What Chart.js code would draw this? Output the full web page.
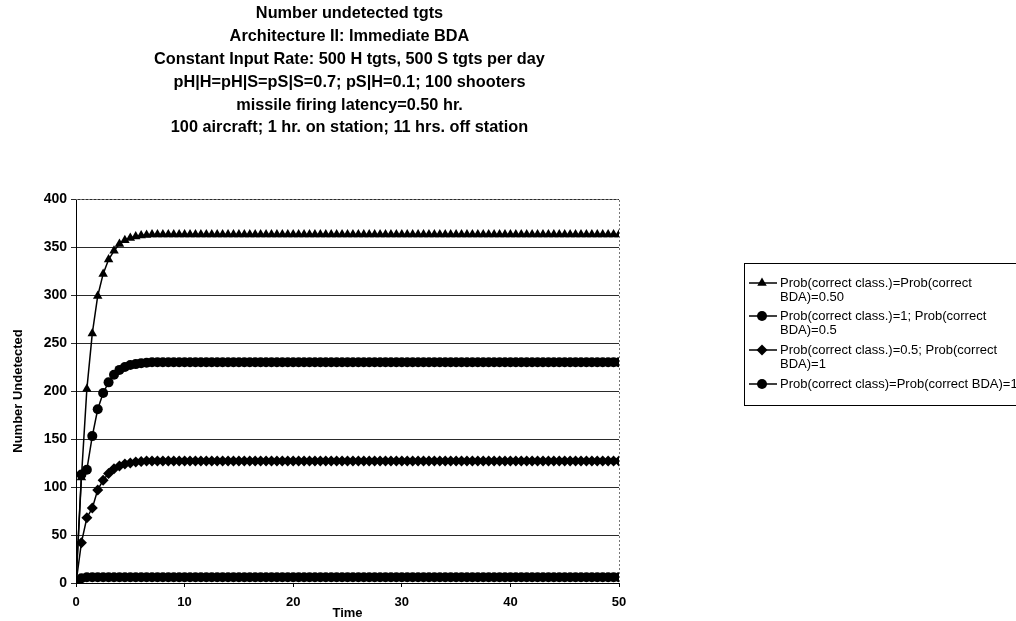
<!DOCTYPE html>
<html><head><meta charset="utf-8">
<script src="https://cdn.jsdelivr.net/npm/chart.js@4.4.1/dist/chart.umd.min.js"></script>
<style>html,body{margin:0;padding:0;background:#fff}canvas{display:block}</style>
</head><body>
<canvas id="c" width="1016" height="621"></canvas>
<script>
const titleLines = [
  "Number undetected tgts",
  "Architecture II: Immediate BDA",
  "Constant Input Rate: 500 H tgts, 500 S tgts per day",
  "pH|H=pH|S=pS|S=0.7; pS|H=0.1; 100 shooters",
  "missile firing latency=0.50 hr.",
  "100 aircraft; 1 hr. on station; 11 hrs. off station"
];
const xAxisTitle = "Time";
const yAxisTitle = "Number Undetected";
const seriesLabels = [
  ["Prob(correct class.)=Prob(correct", "BDA)=0.50"],
  ["Prob(correct class.)=1; Prob(correct", "BDA)=0.5"],
  ["Prob(correct class.)=0.5; Prob(correct", "BDA)=1"],
  ["Prob(correct class)=Prob(correct BDA)=1"]
];
const times = [
  0,0.5,1,1.5,2,2.5,3,3.5,4,4.5,5,5.5,6,6.5,7,7.5,8,8.5,9,9.5,
  10,10.5,11,11.5,12,12.5,13,13.5,14,14.5,15,15.5,16,16.5,17,17.5,18,18.5,19,19.5,
  20,20.5,21,21.5,22,22.5,23,23.5,24,24.5,25,25.5,26,26.5,27,27.5,28,28.5,29,29.5,
  30,30.5,31,31.5,32,32.5,33,33.5,34,34.5,35,35.5,36,36.5,37,37.5,38,38.5,39,39.5,
  40,40.5,41,41.5,42,42.5,43,43.5,44,44.5,45,45.5,46,46.5,47,47.5,48,48.5,49,49.5,50
];
const bothHalf = [
  0,110,202,260,299,322,337,346,353,357,359.5,361,362,362.5,363,363,363,363,363,363,
  363,363,363,363,363,363,363,363,363,363,363,363,363,363,363,363,363,363,363,363,
  363,363,363,363,363,363,363,363,363,363,363,363,363,363,363,363,363,363,363,363,
  363,363,363,363,363,363,363,363,363,363,363,363,363,363,363,363,363,363,363,363,
  363,363,363,363,363,363,363,363,363,363,363,363,363,363,363,363,363,363,363,363,363
];
const classOneBdaHalf = [
  0,113,118,153,181,198,209,217,222,225,227,228,229,229.5,230,230,230,230,230,230,
  230,230,230,230,230,230,230,230,230,230,230,230,230,230,230,230,230,230,230,230,
  230,230,230,230,230,230,230,230,230,230,230,230,230,230,230,230,230,230,230,230,
  230,230,230,230,230,230,230,230,230,230,230,230,230,230,230,230,230,230,230,230,
  230,230,230,230,230,230,230,230,230,230,230,230,230,230,230,230,230,230,230,230,230
];
const classHalfBdaOne = [
  0,42,68,78,97,107,114,119,122,124,125,126,126.5,127,127,127,127,127,127,127,
  127,127,127,127,127,127,127,127,127,127,127,127,127,127,127,127,127,127,127,127,
  127,127,127,127,127,127,127,127,127,127,127,127,127,127,127,127,127,127,127,127,
  127,127,127,127,127,127,127,127,127,127,127,127,127,127,127,127,127,127,127,127,
  127,127,127,127,127,127,127,127,127,127,127,127,127,127,127,127,127,127,127,127,127
];
const bothOne = [
  0,5,6,6,6,6,6,6,6,6,6,6,6,6,6,6,6,6,6,6,
  6,6,6,6,6,6,6,6,6,6,6,6,6,6,6,6,6,6,6,6,
  6,6,6,6,6,6,6,6,6,6,6,6,6,6,6,6,6,6,6,6,
  6,6,6,6,6,6,6,6,6,6,6,6,6,6,6,6,6,6,6,6,
  6,6,6,6,6,6,6,6,6,6,6,6,6,6,6,6,6,6,6,6,6
];
const xTicks = [0,10,20,30,40,50];
const yTicks = [0,50,100,150,200,250,300,350,400];

const FONT = '"Liberation Sans", Arial, sans-serif';
const seriesValues = [bothHalf, classOneBdaHalf, classHalfBdaOne, bothOne];
const seriesStyles = [
  {pointStyle:'triangle', radius:5.5},
  {pointStyle:'circle', radius:5},
  {pointStyle:'rectRot', radius:5.5},
  {pointStyle:'circle', radius:5}
];

const datasets = seriesValues.map((vals, i) => ({
  label: seriesLabels[i].join(' '),
  data: times.map((t, k) => ({x: t, y: vals[k]})),
  borderColor: '#000',
  backgroundColor: '#000',
  borderWidth: 1.5,
  pointStyle: seriesStyles[i].pointStyle,
  pointRadius: seriesStyles[i].radius,
  pointBorderWidth: 0,
  pointBackgroundColor: '#000',
  tension: 0
}));

const PLOT = {left: 76, right: 619, top: 199, bottom: 583};
const W = 1016, H = 621;

const decor = {
  id: 'decor',
  beforeDatasetsDraw(chart) {
    const {ctx, chartArea: a} = chart;
    ctx.save();
    ctx.strokeStyle = '#777';
    ctx.lineWidth = 1;
    ctx.setLineDash([2, 2]);
    ctx.beginPath();
    ctx.moveTo(a.left, Math.round(a.top) + 0.5);
    ctx.lineTo(Math.round(a.right) + 0.5, Math.round(a.top) + 0.5);
    ctx.lineTo(Math.round(a.right) + 0.5, a.bottom);
    ctx.stroke();
    ctx.restore();
  },
  afterDraw(chart) {
    const {ctx, chartArea: a} = chart;
    ctx.save();
    // title
    ctx.fillStyle = '#000';
    ctx.font = 'bold 16.3px ' + FONT;
    ctx.textAlign = 'center';
    ctx.textBaseline = 'middle';
    const cx = (a.left + a.right) / 2 + 2;
    titleLines.forEach((t, i) => ctx.fillText(t, cx, 14 + i * 22.8));
    // legend
    const lx = 744, ly = 263, lw = 400, lh = 142;
    ctx.strokeStyle = '#000';
    ctx.lineWidth = 1;
    ctx.strokeRect(lx + 0.5, ly + 0.5, lw, lh);
    ctx.font = '13px ' + FONT;
    ctx.textAlign = 'left';
    const rowY = [283, 316, 350, 384];
    chart.data.datasets.forEach((ds, i) => {
      const y = rowY[i];
      ctx.strokeStyle = '#000';
      ctx.lineWidth = 1.5;
      ctx.beginPath();
      ctx.moveTo(lx + 5, y);
      ctx.lineTo(lx + 33, y);
      ctx.stroke();
      ctx.fillStyle = '#000';
      Chart.helpers.drawPoint(ctx, {pointStyle: ds.pointStyle, radius: ds.pointRadius, rotation: 0, borderWidth: 0}, lx + 18, y);
      ctx.fillStyle = '#000';
      seriesLabels[i].forEach((line, j) => ctx.fillText(line, lx + 36, y + j * 14.5));
    });
    ctx.restore();
  }
};

new Chart(document.getElementById('c'), {
  type: 'line',
  data: {datasets},
  options: {
    responsive: false,
    animation: false,
    devicePixelRatio: 1,
    layout: {padding: {left: 0, right: W - PLOT.right, top: PLOT.top, bottom: 0}},
    plugins: {legend: {display: false}, title: {display: false}, tooltip: {enabled: false}},
    scales: {
      x: {
        type: 'linear', min: 0, max: 50,
        afterBuildTicks: s => { s.ticks = xTicks.map(v => ({value: v})); },
        afterFit: s => { s.height = H - PLOT.bottom; },
        grid: {drawOnChartArea: false, color: '#000', tickLength: 4},
        border: {color: '#000', width: 1},
        ticks: {color: '#000', font: {family: FONT, size: 13, weight: 'bold'}, padding: 8, maxRotation: 0},
        title: {display: true, text: xAxisTitle, color: '#000', font: {family: FONT, size: 13, weight: 'bold'}, padding: {top: 0, bottom: 0}}
      },
      y: {
        type: 'linear', min: 0, max: 400,
        afterBuildTicks: s => { s.ticks = yTicks.map(v => ({value: v})); },
        afterFit: s => { s.width = PLOT.left; },
        grid: {color: '#2a2a2a', lineWidth: 1, tickLength: 5},
        border: {color: '#000', width: 1},
        ticks: {color: '#000', font: {family: FONT, size: 14, weight: 'bold'}, padding: 4},
        title: {display: true, text: yAxisTitle, color: '#000', font: {family: FONT, size: 13, weight: 'bold'}, padding: {top: 11, bottom: 2}}
      }
    }
  },
  plugins: [decor]
});
</script>
</body></html>
